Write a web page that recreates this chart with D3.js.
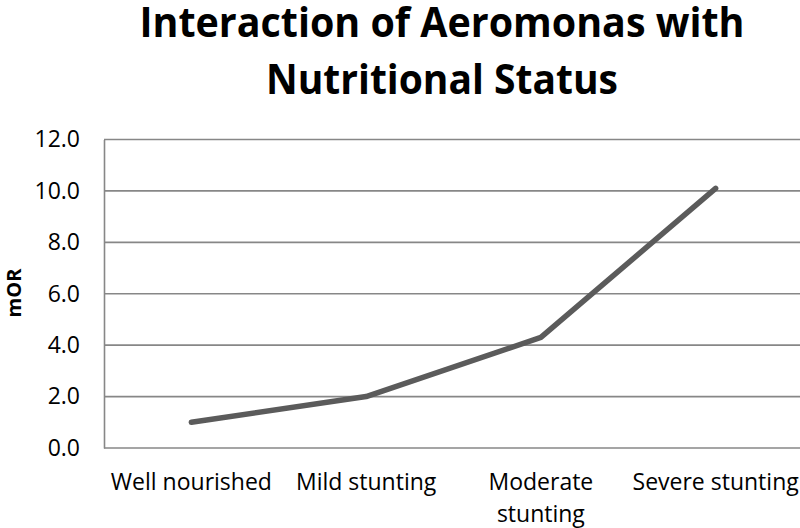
<!DOCTYPE html>
<html>
<head>
<meta charset="utf-8">
<script src="https://cdn.jsdelivr.net/npm/d3@7"></script>
<style>
  body { margin: 0; background: #fff; }
  svg { font-family: "Open Sans", sans-serif; }
</style>
</head>
<body>
<svg width="800" height="528"></svg>
<script>
// Data
const categories = ["Well nourished", "Mild stunting", "Moderate stunting", "Severe stunting"];
const mOR = [1.0, 2.0, 4.3, 10.1];
const yTicks = [0, 2, 4, 6, 8, 10, 12];
const titleLines = ["Interaction of Aeromonas with", "Nutritional Status"];

function drawChart() {
  const svg = d3.select("svg");
  const plot = { left: 104, right: 803, top: 139.5, bottom: 448 };

  const x = d3.scaleBand().domain(categories).range([plot.left, plot.right]);
  const y = d3.scaleLinear().domain([0, 12]).range([plot.bottom, plot.top]);

  // Title
  svg.append("g")
    .attr("class", "title")
    .selectAll("text")
    .data(titleLines)
    .enter()
    .append("text")
    .attr("x", 442)
    .attr("y", (d, i) => 37 + i * 57)
    .attr("text-anchor", "middle")
    .style("font-size", "42px")
    .style("font-weight", "bold")
    .attr("textLength", (d, i) => (i === 0 ? 605 : 352))
    .attr("lengthAdjust", "spacingAndGlyphs")
    .text((d) => d);

  // Gridlines
  svg.append("g")
    .selectAll("line")
    .data(yTicks)
    .enter()
    .append("line")
    .attr("x1", plot.left)
    .attr("x2", plot.right)
    .attr("y1", (d) => y(d))
    .attr("y2", (d) => y(d))
    .style("stroke", "#878787")
    .style("stroke-width", "1.6px");

  // Y axis
  const yAxis = svg.append("g")
    .attr("transform", "translate(" + plot.left + ",0)")
    .call(d3.axisLeft(y).tickValues(yTicks).tickFormat(d3.format(".1f")).tickSize(0).tickPadding(24));
  yAxis.select(".domain").style("stroke", "#878787").style("stroke-width", "1.6px");
  yAxis.selectAll("text")
    .style("font-family", "Open Sans")
    .style("font-size", "23px")
    .style("fill", "#000");

  // X axis
  const xAxis = svg.append("g")
    .attr("transform", "translate(0," + plot.bottom + ")")
    .call(d3.axisBottom(x).tickSize(0).tickPadding(0));
  xAxis.select(".domain").remove();
  xAxis.selectAll("text").remove();
  xAxis.selectAll(".tick")
    .append("text")
    .style("font-family", "Open Sans")
    .style("font-size", "23px")
    .style("fill", "#000")
    .attr("text-anchor", "middle")
    .each(function (d) {
      const t = d3.select(this);
      t.append("tspan").attr("x", 0).attr("y", 42).text(d);
      // wrap when the label is wider than its band
      if (this.getComputedTextLength() > x.bandwidth()) {
        const words = d.split(" ");
        t.selectAll("tspan").remove();
        words.forEach((w, i) => {
          t.append("tspan").attr("x", 0).attr("y", 42 + i * 32).text(w);
        });
      }
    });

  // Y axis title
  svg.append("text")
    .attr("transform", "translate(21,293) rotate(-90)")
    .attr("text-anchor", "middle")
    .style("font-size", "20px")
    .style("font-weight", "bold")
    .text("mOR");

  // Line
  const line = d3.line()
    .x((d, i) => x(categories[i]) + x.bandwidth() / 2)
    .y((d) => y(d));

  svg.append("path")
    .datum(mOR)
    .attr("d", line)
    .style("fill", "none")
    .style("stroke", "#5b5b5b")
    .style("stroke-width", "5.5px")
    .style("stroke-linecap", "round")
    .style("stroke-linejoin", "round");
}

drawChart();
</script>
</body>
</html>
